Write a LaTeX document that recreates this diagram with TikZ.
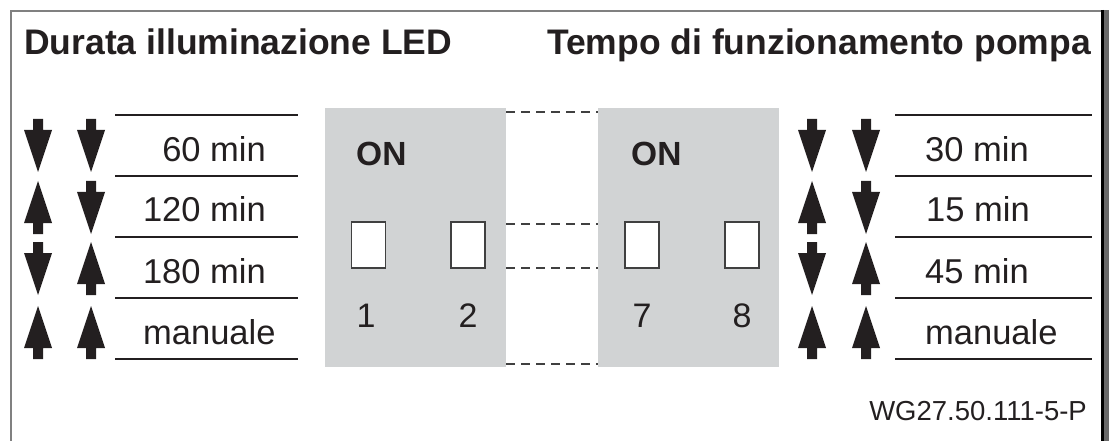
\documentclass[tikz,border=0pt]{standalone}
\usepackage{fontspec}
\setmainfont{Liberation Sans}
\definecolor{boxgray}{RGB}{209,211,212}
\definecolor{ink}{RGB}{35,31,32}
\definecolor{framegray}{RGB}{128,128,128}
\definecolor{shadegray}{RGB}{105,105,105}
\definecolor{dashgray}{RGB}{64,64,64}
\definecolor{swgray}{RGB}{64,64,64}
\newcommand\myDown[2]{\fill[ink] (#1-5,#2) -- (#1+5,#2) -- (#1+5,#2+11) -- (#1+14,#2+11) -- (#1,#2+53) -- (#1-14,#2+11) -- (#1-5,#2+11) -- cycle;}
\newcommand\myUp[2]{\fill[ink] (#1,#2) -- (#1+14,#2+42) -- (#1+5,#2+42) -- (#1+5,#2+53) -- (#1-5,#2+53) -- (#1-5,#2+42) -- (#1-14,#2+42) -- cycle;}
\tikzset{
  title/.style={inner sep=0, text=ink, font=\fontsize{35.5}{41}\selectfont\bfseries},
  onlabel/.style={inner sep=0, text=ink, font=\fontsize{33.5}{38}\selectfont\bfseries, anchor=base west},
  rowlabel/.style={inner sep=0, text=ink, font=\fontsize{34.5}{40}\selectfont},
  numlabel/.style={inner sep=0, text=ink, font=\fontsize{34}{40}\selectfont, anchor=base},
  rule/.style={ink, line width=1.3},
  panel/.style={fill=boxgray, draw=none, inner sep=0, minimum width=181, minimum height=259, anchor=north west},
  switchbox/.style={draw=swgray, fill=white, line width=1.3, inner sep=0, minimum width=34, minimum height=46},
  dashline/.style={dashgray, line width=1.3, dash pattern=on 9pt off 6pt}
}
\begin{document}
\begin{tikzpicture}[x=1pt,y=-1pt]
\useasboundingbox (0,0) rectangle (1109,441);
% frame
\draw[framegray, line width=2] (11,441) -- (11,11) -- (1101,11);
\fill[shadegray] (1104,10) rectangle (1109,441);
\draw[black, line width=3] (1102.5,10) -- (1102.5,441);
% titles
\node[title, anchor=base west] (t1) at (24,55) {Durata illuminazione LED};
\node[title, anchor=base east] (t2) at (1091,55) {Tempo di funzionamento pompa};
% rules
\foreach \yy in {115,176,237,298,359} \draw[rule] (115,\yy) -- (298,\yy);
\foreach \yy in {115,176,237,298,359} \draw[rule] (895,\yy) -- (1092,\yy);
% left arrows
\myDown{38}{119} \myDown{91}{119}
\myUp{38}{181} \myDown{91}{181}
\myDown{38}{242} \myUp{91}{242}
\myUp{38}{306} \myUp{91}{306}
% right arrows
\myDown{812}{119} \myDown{866}{119}
\myUp{812}{181} \myDown{866}{181}
\myDown{812}{242} \myUp{866}{242}
\myUp{812}{306} \myUp{866}{306}
% left labels
\node[rowlabel, anchor=base east] (l1) at (266,161) {60 min};
\node[rowlabel, anchor=base east] (l2) at (266,222) {120 min};
\node[rowlabel, anchor=base east] (l3) at (266,283) {180 min};
\node[rowlabel, anchor=base west] (l4) at (143,344) {manuale};
% right labels
\node[rowlabel, anchor=base west] (r1) at (925,161) {30 min};
\node[rowlabel, anchor=base west] (r2) at (926,222) {15 min};
\node[rowlabel, anchor=base west] (r3) at (925,283) {45 min};
\node[rowlabel, anchor=base west] (r4) at (925,344) {manuale};
% panels
\node[panel] (lbox) at (325,108) {};
\node[panel] (rbox) at (598,108) {};
\coordinate (d1) at (0,112);
\coordinate (d2) at (0,224);
\coordinate (d3) at (0,268);
\coordinate (d4) at (0,364);
\foreach \dd in {d1,d2,d3,d4} \draw[dashline] (lbox.east |- \dd) -- (rbox.west |- \dd);
\node[onlabel] (on1) at (356,166) {ON};
\node[onlabel] (on2) at (631,166) {ON};
\node[switchbox] (s1) at (368.5,245) {};
\node[switchbox] (s2) at (468,245) {};
\node[switchbox] (s7) at (642,245) {};
\node[switchbox] (s8) at (742,245) {};
\node[numlabel] (n1) at (366,327) {1};
\node[numlabel] (n2) at (468,327) {2};
\node[numlabel] (n7) at (642,327) {7};
\node[numlabel] (n8) at (742,327) {8};
% footer
\node[inner sep=0, text=ink, font=\fontsize{27.5}{32}\selectfont, anchor=base east] (ft) at (1087,420) {WG27.50.111-5-P};
\end{tikzpicture}
\end{document}
